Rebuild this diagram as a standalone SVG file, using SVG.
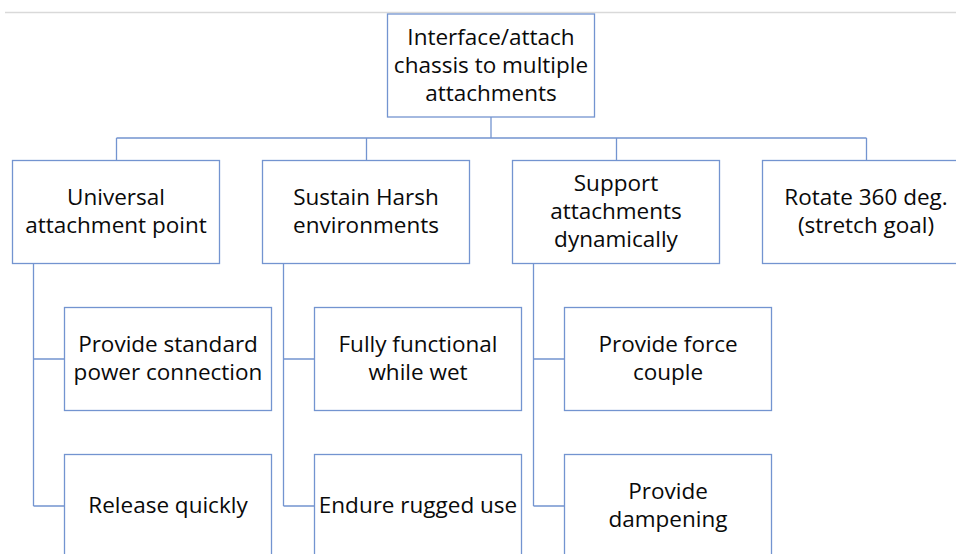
<svg xmlns="http://www.w3.org/2000/svg" width="956" height="554" viewBox="0 0 956 554">
<style>
.box{fill:#fff;stroke:#7394D0;stroke-width:1.3}
.c{fill:none;stroke:#7394D0;stroke-width:1.3}
text{font-family:"Open Sans","Noto Sans","Liberation Sans",sans-serif;font-size:22.5px;fill:#0a0a0a;text-anchor:middle}
</style>
<rect width="956" height="554" fill="#fff"/>
<line x1="5" y1="12.5" x2="956" y2="12.5" stroke="#d9d9d9" stroke-width="1.3"/>
<g id="connectors">
<path class="c" d="M491 117V138M116.5 138H866.5M116.5 138V160.5M366.5 138V160.5M616.5 138V160.5M866.5 138V160.5"/>
<path class="c" d="M33.5 263.5V506M33.5 359H64.5M33.5 506H64.5"/>
<path class="c" d="M283.5 263.5V506M283.5 359H314.5M283.5 506H314.5"/>
<path class="c" d="M533.5 263.5V506M533.5 359H564.5M533.5 506H564.5"/>
</g>
<g id="root"><rect class="box" x="387.5" y="14" width="207" height="103"/>
<text x="491" y="45">Interface/attach</text><text x="491" y="73">chassis to multiple</text><text x="491" y="101">attachments</text></g>
<g id="n1"><rect class="box" x="12.5" y="160.5" width="207" height="103"/>
<text x="116" y="205">Universal</text><text x="116" y="233">attachment point</text></g>
<g id="n2"><rect class="box" x="262.5" y="160.5" width="207" height="103"/>
<text x="366" y="205">Sustain Harsh</text><text x="366" y="233">environments</text></g>
<g id="n3"><rect class="box" x="512.5" y="160.5" width="207" height="103"/>
<text x="616" y="191">Support</text><text x="616" y="219">attachments</text><text x="616" y="247">dynamically</text></g>
<g id="n4"><rect class="box" x="762.5" y="160.5" width="207" height="103"/>
<text x="866" y="205">Rotate 360 deg.</text><text x="866" y="233">(stretch goal)</text></g>
<g id="n1a"><rect class="box" x="64.5" y="307.5" width="207" height="103"/>
<text x="168" y="352">Provide standard</text><text x="168" y="380">power connection</text></g>
<g id="n1b"><rect class="box" x="64.5" y="454.5" width="207" height="103"/>
<text x="168" y="513">Release quickly</text></g>
<g id="n2a"><rect class="box" x="314.5" y="307.5" width="207" height="103"/>
<text x="418" y="352">Fully functional</text><text x="418" y="380">while wet</text></g>
<g id="n2b"><rect class="box" x="314.5" y="454.5" width="207" height="103"/>
<text x="418" y="513">Endure rugged use</text></g>
<g id="n3a"><rect class="box" x="564.5" y="307.5" width="207" height="103"/>
<text x="668" y="352">Provide force</text><text x="668" y="380">couple</text></g>
<g id="n3b"><rect class="box" x="564.5" y="454.5" width="207" height="103"/>
<text x="668" y="499">Provide</text><text x="668" y="527">dampening</text></g>
</svg>
